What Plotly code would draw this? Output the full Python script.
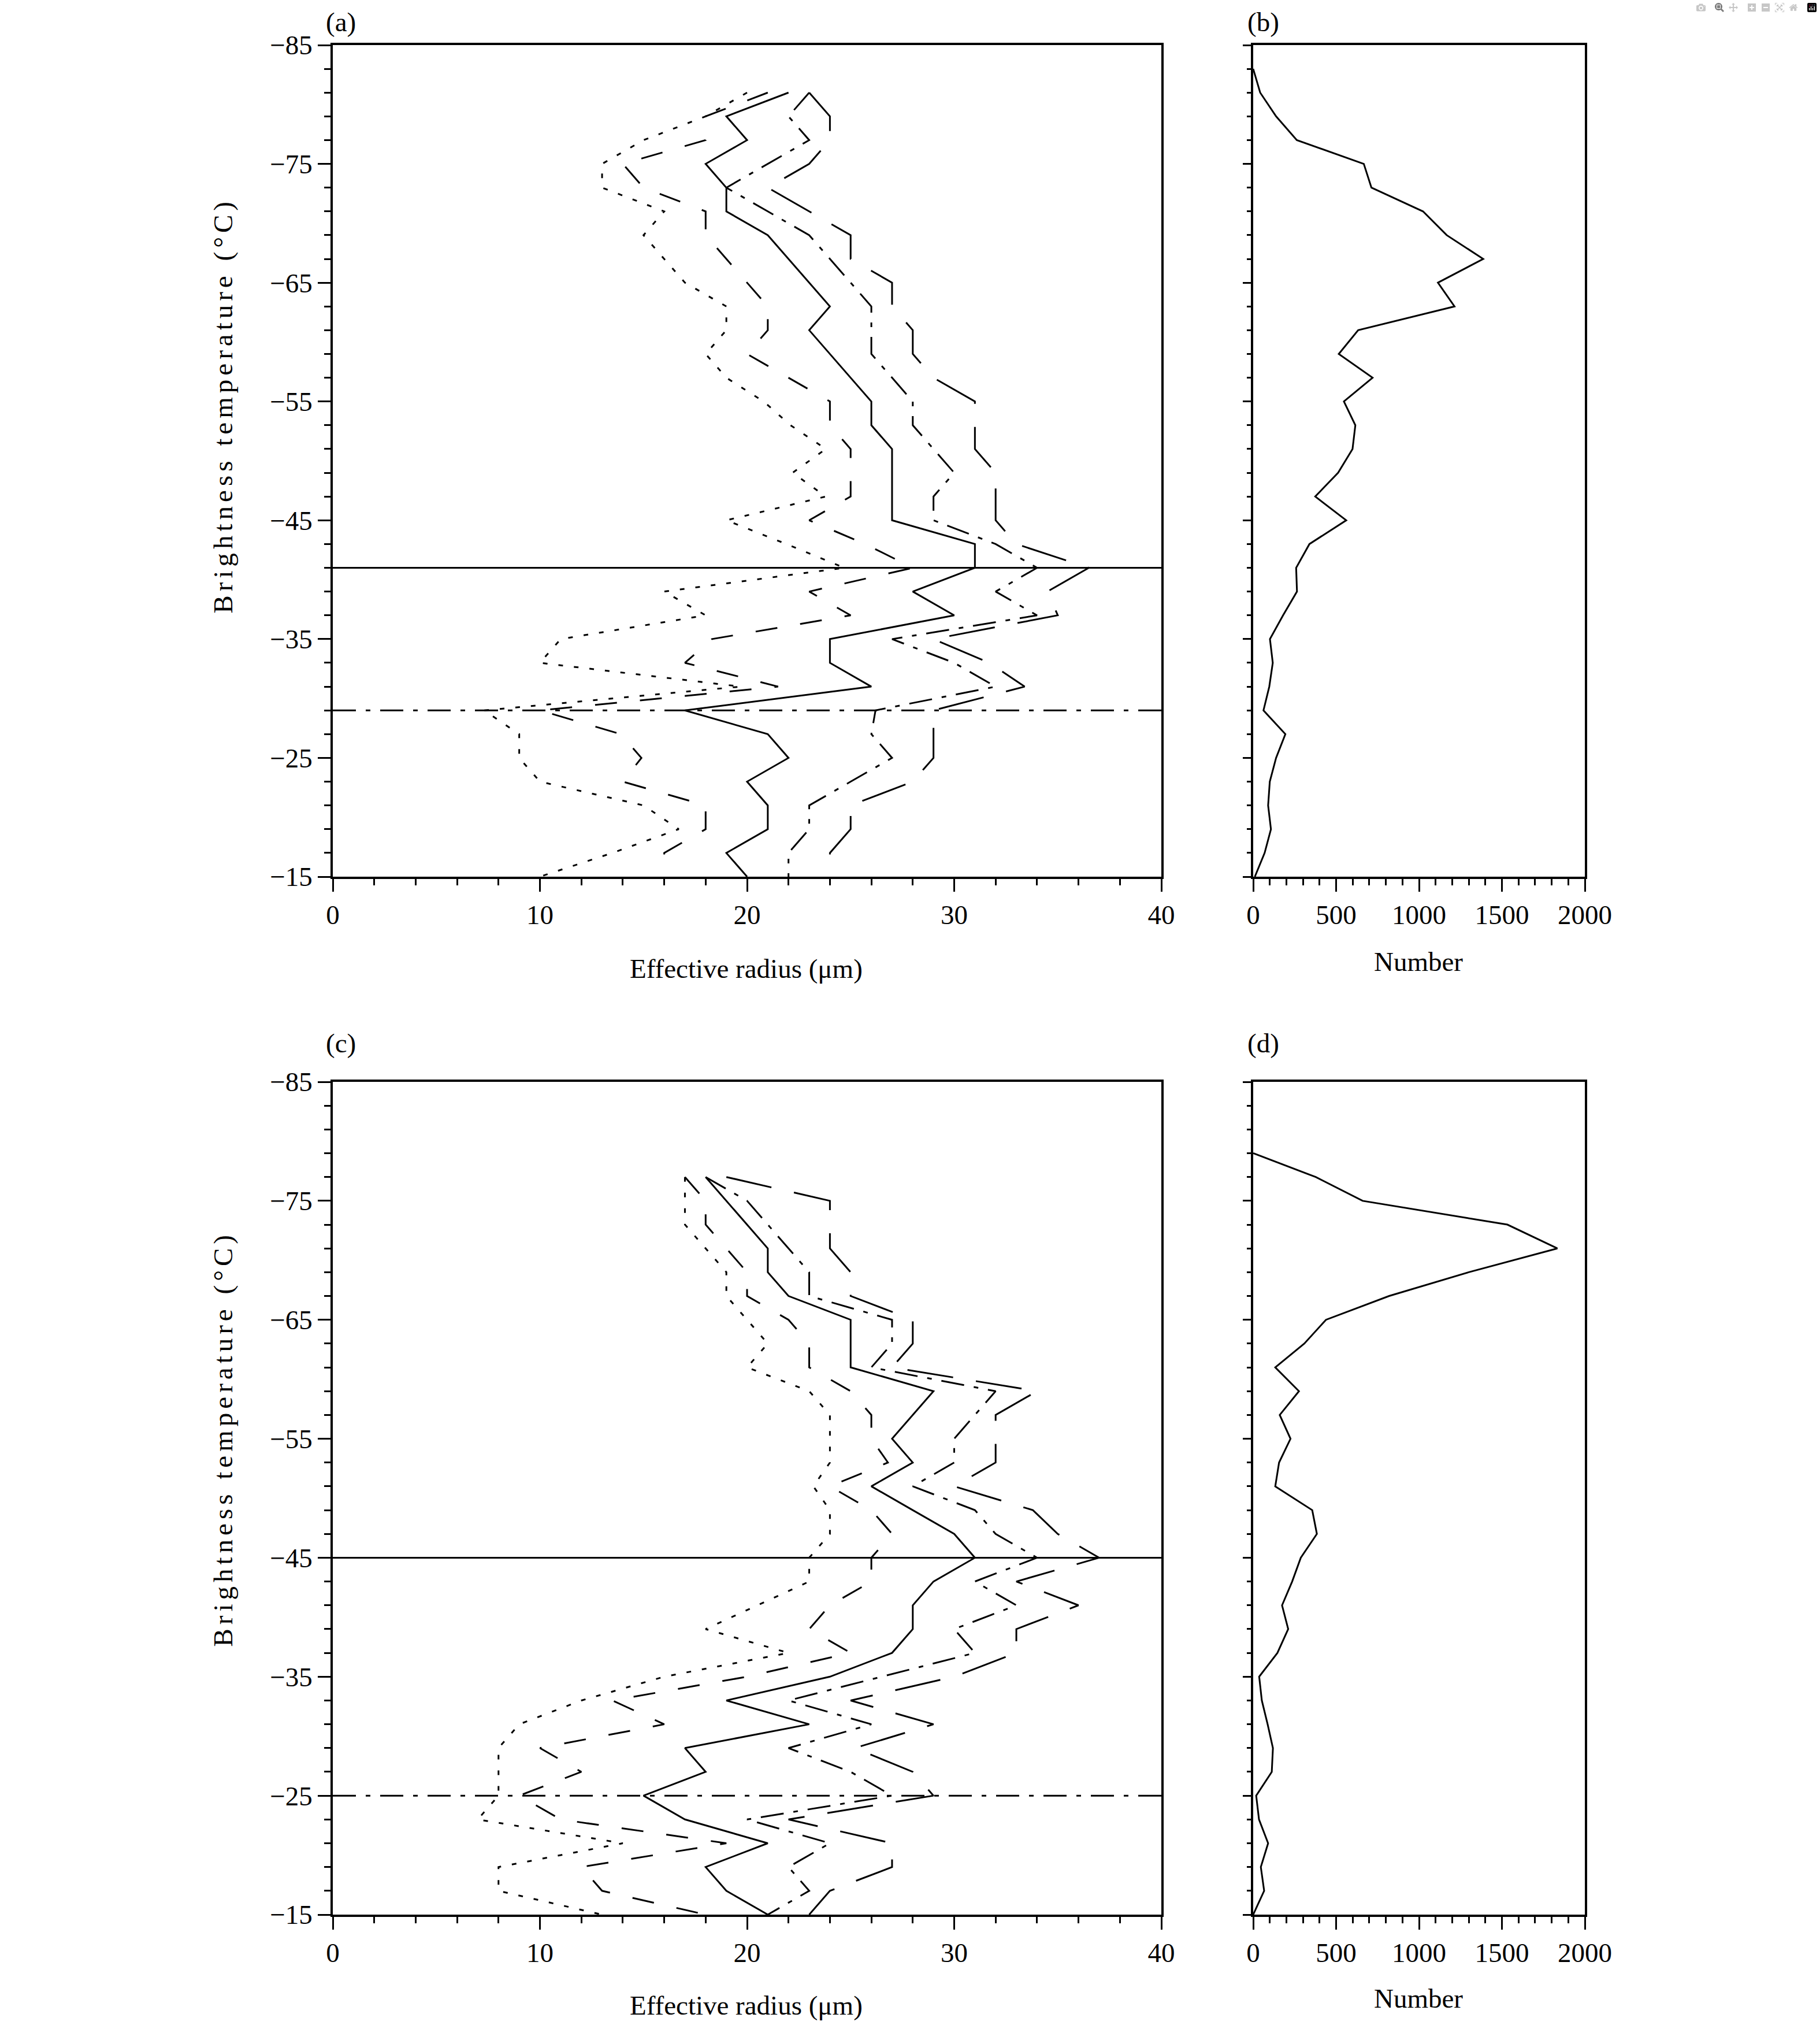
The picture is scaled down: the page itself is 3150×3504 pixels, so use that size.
import plotly.graph_objects as go

W, H = 3150, 3504
FONT = "Liberation Serif"

# ---------------- data ----------------
temps_a = [-81, -79, -77, -75, -73, -71, -69, -67, -65, -63, -61, -59, -57, -55, -53, -51, -49,
           -47, -45, -43, -41, -39, -37, -35, -33, -31, -29, -27, -25, -23, -21, -19, -17, -15]
dotted_a = [20, 18, 15, 13, 13, 16, 15, 16, 17, 19, 19, 18, 19, 20.8, 22.1, 23.8, 22.2,
            23.8, 19, 21.9, 24.7, 16, 18, 11, 10, 19.7, 7.3, 9, 9, 10, 15, 16.7, 13.5, 10]
dashed_a = [21, 18, 18, 14, 15, 18, 18, 19, 20, 21, 21, 20, 22, 24, 24, 25, 25,
            25, 23, 25.7, 28, 23, 25, 18.3, 17, 21.5, 10, 13.9, 14.9, 14, 18, 18, 16, 16]
solid_a = [22, 19, 20, 18, 19, 19, 21, 22, 23, 24, 23, 24, 25, 26, 26, 27, 27,
           27, 27, 31, 31, 28, 30, 24, 24, 26, 17, 21, 22, 20, 21, 21, 19, 20]
dashdot_a = [23, 22, 23, 21, 19, 21, 23, 24, 25, 26, 26, 26, 27, 28, 28, 29, 30,
             29, 29, 32, 34, 32, 34, 27, 30, 32, 26.2, 26, 27, 25, 23, 23, 22, 22]
longdash_a = [23, 24, 24, 23, 21, 23, 25, 25, 27, 27, 28, 28, 29, 31, 31, 31, 32,
              32, 32, 33, 36.5, 34.5, 35, 29, 31.7, 33.4, 29, 29, 29, 28, 25, 25, 24, 24]

temps_c = [-77, -75, -73, -71, -69, -67, -65, -63, -61, -59, -57, -55, -53, -51, -49, -47,
           -45, -43, -41, -39, -37, -35, -33, -31, -29, -27, -25, -23, -21, -19, -17, -15]
dotted_c = [17, 17, 17, 18, 19, 19, 20, 21, 20, 23, 24, 24, 24, 23.2, 24, 24,
            23, 23, 20.5, 18, 22, 16, 12, 9, 8, 8, 8, 7, 14, 8, 8, 13]
dashed_c = [17, 18, 18, 19, 20, 20, 22, 23, 23, 25, 26, 26, 26.8, 24, 26, 27,
            26, 26, 24, 23, 25, 20, 13.5, 16, 10, 12, 9, 11, 19, 12, 13, 18]
solid_c = [18, 19, 20, 21, 21, 22, 25, 25, 25, 29, 28, 27, 28, 26, 28, 30,
           31, 29, 28, 28, 27, 24, 19, 23, 17, 18, 15, 17, 21, 18, 19, 21]
dashdot_c = [18, 20, 21, 22, 23, 23, 27, 27, 26, 32, 31, 30, 30, 28, 31, 32,
             34, 31, 33, 30, 31, 26.5, 22, 26, 22, 25, 27, 20, 24, 22, 23, 21]
longdash_c = [19, 24, 24, 24, 25, 25, 28, 28, 27, 34, 32, 32, 32, 30, 33.8, 35,
              37, 33, 36, 33, 33, 30, 25, 29, 25.2, 28, 29, 22, 27, 27, 24, 23]

temps_b = [-83, -81, -79, -77, -75, -73, -71, -69, -67, -65, -63, -61, -59, -57, -55, -53, -51, -49,
           -47, -45, -43, -41, -39, -37, -35, -33, -31, -29, -27, -25, -23, -21, -19, -17, -15]
count_b = [0, 42, 138, 263, 667, 713, 1024, 1167, 1387, 1114, 1214, 633, 516, 720, 547, 616, 599, 512,
           374, 561, 339, 259, 264, 180, 101, 118, 97, 62, 194, 138, 100, 90, 107, 69, 10]

temps_d = [-79, -77, -75, -73, -71, -69, -67, -65, -63, -61, -59, -57, -55, -53, -51, -49, -47,
           -45, -43, -41, -39, -37, -35, -33, -31, -29, -27, -25, -23, -21, -19, -17, -15]
count_d = [0, 377, 660, 1533, 1834, 1300, 820, 439, 308, 133, 276, 160, 225, 156, 133, 356, 384,
           287, 235, 174, 211, 146, 36, 52, 87, 119, 112, 18, 35, 90, 46, 66, 0]

ref_solid_a, ref_dashdot_a = -41, -29
ref_solid_c, ref_dashdot_c = -45, -25

radius_range = [0, 40]
count_range = [0, 2000]
temp_range = [-15, -85]
temp_ticks = [-85, -75, -65, -55, -45, -35, -25, -15]
temp_labels = ["\u221285", "\u221275", "\u221265", "\u221255", "\u221245", "\u221235", "\u221225", "\u221215"]
radius_ticks = [0, 10, 20, 30, 40]
count_ticks = [0, 500, 1000, 1500, 2000]

# ---------------- styles ----------------
LW = 3
DOT = "8px,19px"
DASH = "38px,40px"
DASHDOT = "40px,17px,8px,17px"
LONGDASH = "80px,40px"

fig = go.Figure()


def add_profiles(temps, series, xa, ya):
    for vals, dash in series:
        fig.add_trace(go.Scatter(x=vals, y=temps, mode="lines", xaxis=xa, yaxis=ya,
                                 line=dict(color="black", width=LW, dash=dash),
                                 showlegend=False, hoverinfo="skip"))


add_profiles(temps_a, [(dotted_a, DOT), (dashed_a, DASH), (solid_a, "solid"),
                       (dashdot_a, DASHDOT), (longdash_a, LONGDASH)], "x", "y")
add_profiles(temps_c, [(dotted_c, DOT), (dashed_c, DASH), (solid_c, "solid"),
                       (dashdot_c, DASHDOT), (longdash_c, LONGDASH)], "x3", "y3")

for lev, dash, xa, ya in [(ref_solid_a, "solid", "x", "y"), (ref_dashdot_a, DASHDOT, "x", "y"),
                          (ref_solid_c, "solid", "x3", "y3"), (ref_dashdot_c, DASHDOT, "x3", "y3")]:
    fig.add_trace(go.Scatter(x=radius_range, y=[lev, lev], mode="lines", xaxis=xa, yaxis=ya,
                             line=dict(color="black", width=LW, dash=dash),
                             showlegend=False, hoverinfo="skip"))

fig.add_trace(go.Scatter(x=count_b, y=temps_b, mode="lines", xaxis="x2", yaxis="y2",
                         line=dict(color="black", width=LW), showlegend=False, hoverinfo="skip"))
fig.add_trace(go.Scatter(x=count_d, y=temps_d, mode="lines", xaxis="x4", yaxis="y4",
                         line=dict(color="black", width=LW), showlegend=False, hoverinfo="skip"))

tickfont = dict(family=FONT, size=47, color="black")
common = dict(showline=True, linecolor="black", linewidth=3.5, mirror=True, ticks="outside",
              tickwidth=3, ticklen=22, tickcolor="black", showgrid=False, zeroline=False,
              tickfont=tickfont, automargin=False)

dom_xl = [576 / W, 2010 / W]
dom_xr = [2169 / W, 2743 / W]
dom_yt = [1 - 1517 / H, 1 - 78 / H]
dom_yb = [1 - 3313 / H, 1 - 1872 / H]


def xr(dom, anchor):
    return dict(common, domain=dom, anchor=anchor, range=radius_range, tickvals=radius_ticks,
                minor=dict(ticks="outside", ticklen=11, tickwidth=3, tickcolor="black",
                           dtick=2, tick0=0, showgrid=False))


def xc(dom, anchor):
    return dict(common, domain=dom, anchor=anchor, range=count_range, tickvals=count_ticks,
                minor=dict(ticks="outside", ticklen=11, tickwidth=3, tickcolor="black",
                           dtick=100, tick0=0, showgrid=False))


def yt(dom, anchor, labels=True, tl=22, ml=11):
    return dict(common, domain=dom, anchor=anchor, range=temp_range, tickvals=temp_ticks,
                ticktext=temp_labels, showticklabels=labels, ticklen=tl,
                minor=dict(ticks="outside", ticklen=ml, tickwidth=3, tickcolor="black",
                           dtick=2, tick0=-85, showgrid=False))


fig.update_layout(
    template="none",
    width=W, height=H, margin=dict(l=0, r=0, t=0, b=0, pad=0),
    paper_bgcolor="white", plot_bgcolor="white",
    font=dict(family=FONT, size=47, color="black"),
    xaxis=xr(dom_xl, "y"), yaxis=yt(dom_yt, "x"),
    xaxis2=xc(dom_xr, "y2"), yaxis2=yt(dom_yt, "x2", labels=False, tl=14, ml=7),
    xaxis3=xr(dom_xl, "y3"), yaxis3=yt(dom_yb, "x3"),
    xaxis4=xc(dom_xr, "y4"), yaxis4=yt(dom_yb, "x4", labels=False, tl=14, ml=7),
)

tf = dict(family=FONT, size=47, color="black")


def ann(text, x, y, angle=0):
    fig.add_annotation(text=text, x=x / W, y=1 - y / H, xref="paper", yref="paper",
                       showarrow=False, font=tf, textangle=angle,
                       xanchor="center", yanchor="middle")


ann("(a)", 590, 38)
ann("(b)", 2186, 38)
ann("(c)", 590, 1805)
ann("(d)", 2186, 1805)
ann("Effective radius (μm)", 1291, 1676)
ann("Effective radius (μm)", 1291, 3470)
ann("Number", 2455, 1664)
ann("Number", 2455, 3458)
ann("Brightness temperature (°C)", 386, 702, -90)
ann("Brightness temperature (°C)", 386, 2490, -90)

post = """
document.body.style.margin='0';
document.querySelectorAll('text.annotation-text').forEach(function(t){
  if (t.textContent.indexOf('Brightness') >= 0) { t.style.letterSpacing = '7px'; }
});
"""
fig.write_html("out.html", post_script=post)
